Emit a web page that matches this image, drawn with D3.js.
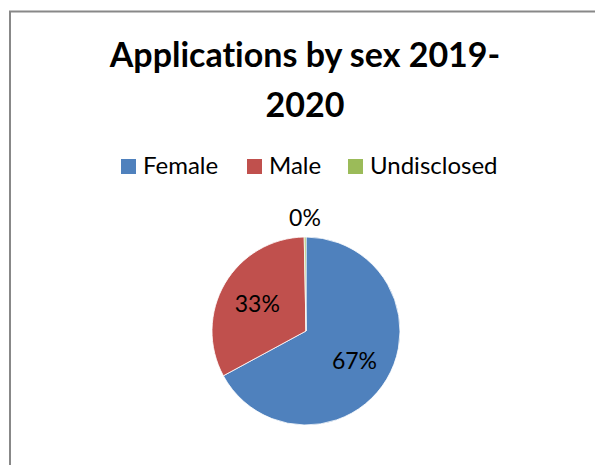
<!DOCTYPE html>
<html>
<head>
<meta charset="utf-8">
<script src="https://cdn.jsdelivr.net/npm/d3@7/dist/d3.min.js"></script>
<style>
  html, body { margin: 0; padding: 0; background: #fff; }
  svg { display: block; }
  text { font-family: Lato, "Open Sans", sans-serif; fill: #000; font-variant-ligatures: none; }
</style>
</head>
<body>
<svg id="chart" width="595" height="465"></svg>
<script>
// Applications by sex, 2019-2020 (share of applications, %)
const categories = ["Female", "Male", "Undisclosed"];
const shares = [67.1, 32.6, 0.3];
const colors = ["#4F81BD", "#C0504D", "#9BBB59"];
const titleLines = ["Applications by sex 2019-", "2020"];

const svg = d3.select("#chart");

// chart area frame (top and left edges visible)
svg.append("path")
  .attr("d", "M10,466 L10,11.5 L596,11.5")
  .attr("fill", "none")
  .attr("stroke", "#888")
  .attr("stroke-width", 2);

// title
svg.append("text")
  .attr("text-anchor", "middle")
  .attr("font-weight", "bold")
  .attr("font-size", 34)
  .selectAll("tspan")
  .data(titleLines)
  .join("tspan")
  .attr("x", 305)
  .attr("y", (d, i) => 67 + i * 50)
  .text(d => d);

// legend
const legendX = [121, 247, 348];
const legend = svg.append("g")
  .selectAll("g")
  .data(categories)
  .join("g")
  .attr("transform", (d, i) => `translate(${legendX[i]},159)`);
legend.append("rect")
  .attr("width", 15).attr("height", 15)
  .attr("fill", (d, i) => colors[i]);
legend.append("text")
  .attr("x", 22).attr("y", 15)
  .attr("font-size", 24)
  .text(d => d);

// pie
const cx = 306, cy = 331, r = 94;
const color = d3.scaleOrdinal().domain(categories).range(colors);
const pie = d3.pie().sort(null).value(d => d.value);
const data = categories.map((c, i) => ({ name: c, value: shares[i] }));
const arcs = pie(data);
const total = d3.sum(shares);
const arc = d3.arc().innerRadius(0).outerRadius(r);

const g = svg.append("g").attr("transform", `translate(${cx},${cy})`);
g.selectAll("path")
  .data(arcs)
  .join("path")
  .attr("d", arc)
  .attr("fill", d => color(d.data.name))
  .attr("stroke", "#fff")
  .attr("stroke-width", 0.8);

// data labels: inside for large slices, outside for the tiny one
const inner = d3.arc().innerRadius(r * 0.6).outerRadius(r * 0.6);
const outer = d3.arc().innerRadius(r * 1.21).outerRadius(r * 1.21);
g.selectAll("text.lbl")
  .data(arcs)
  .join("text")
  .attr("class", "lbl")
  .attr("text-anchor", "middle")
  .attr("dominant-baseline", "central")
  .attr("font-size", 23)
  .attr("transform", d => {
    const frac = d.data.value / total;
    const p = frac < 0.05 ? outer.centroid(d) : inner.centroid(d);
    return `translate(${p[0]},${p[1]})`;
  })
  .text(d => Math.round(d.data.value / total * 100) + "%");
</script>
</body>
</html>
